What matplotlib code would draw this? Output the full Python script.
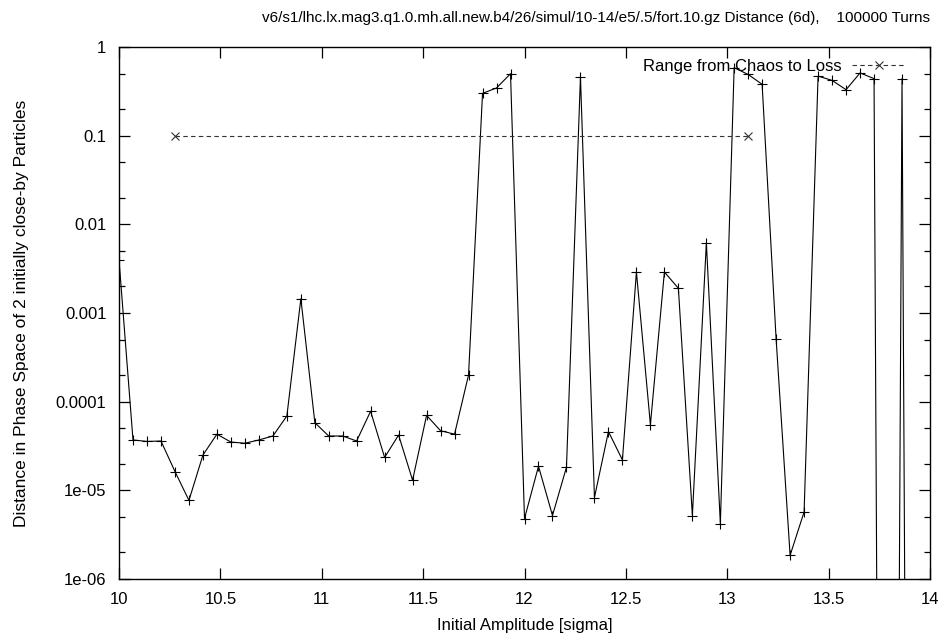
import matplotlib
matplotlib.use("Agg")
import matplotlib.pyplot as plt
from matplotlib.ticker import FixedLocator, NullLocator

plt.rcParams['font.family'] = ['Liberation Sans', 'DejaVu Sans']

amplitude = [10.000, 10.069, 10.138, 10.207, 10.276, 10.345, 10.414, 10.483, 10.552, 10.621,
             10.690, 10.759, 10.828, 10.897, 10.966, 11.034, 11.103, 11.172, 11.241, 11.310,
             11.379, 11.448, 11.517, 11.586, 11.655, 11.724, 11.793, 11.862, 11.931, 12.000,
             12.069, 12.138, 12.207, 12.276, 12.345, 12.414, 12.483, 12.552, 12.621, 12.690,
             12.759, 12.828, 12.897, 12.966, 13.034, 13.103, 13.172, 13.241, 13.310, 13.379,
             13.448, 13.517, 13.586, 13.655, 13.724, 13.793, 13.862, 13.931]
distance = [4.0e-3, 3.7e-5, 3.56e-5, 3.6e-5, 1.63e-5, 7.7e-6, 2.5e-5, 4.3e-5, 3.5e-5, 3.4e-5,
            3.7e-5, 4.1e-5, 6.9e-5, 1.45e-3, 5.8e-5, 4.1e-5, 4.1e-5, 3.6e-5, 7.8e-5, 2.35e-5,
            4.2e-5, 1.3e-5, 7.0e-5, 4.7e-5, 4.3e-5, 2.0e-4, 0.30, 0.345, 0.50, 4.8e-6,
            1.87e-5, 5.2e-6, 1.82e-5, 0.46, 8.3e-6, 4.6e-5, 2.2e-5, 2.9e-3, 5.5e-5, 2.9e-3,
            1.9e-3, 5.2e-6, 6.2e-3, 4.2e-6, 0.585, 0.49, 0.38, 5.1e-4, 1.85e-6, 5.7e-6,
            0.47, 0.42, 0.33, 0.51, 0.44, 1e-30, 0.44, 1e-30]

range_x = [10.276, 13.103]
range_y = [0.1, 0.1]

xticks = [10, 10.5, 11, 11.5, 12, 12.5, 13, 13.5, 14]
xtick_labels = ["10", "10.5", "11", "11.5", "12", "12.5", "13", "13.5", "14"]
yticks = [1e-6, 1e-5, 1e-4, 1e-3, 1e-2, 1e-1, 1]
ytick_labels = ["1e-06", "1e-05", "0.0001", "0.001", "0.01", "0.1", "1"]

title = "v6/s1/lhc.lx.mag3.q1.0.mh.all.new.b4/26/simul/10-14/e5/.5/fort.10.gz Distance (6d),    100000 Turns"

W, H = 942, 639
fig = plt.figure(figsize=(W / 100, H / 100), dpi=100)
L, R, T, B = 119, 930, 47, 579
ax = fig.add_axes([L / W, 1 - B / H, (R - L) / W, (B - T) / H])

ax.plot(amplitude, distance, color='black', lw=0.8, marker='+', ms=7.5, mew=0.8)
ax.plot(range_x, range_y, color='#333333', lw=0.8, ls=(0, (4, 3)), marker='x', ms=6, mew=0.8,
        label='Range from Chaos to Loss')

ax.set_yscale('log')
ax.set_xlim(10, 14)
ax.set_ylim(1e-6, 1)

ax.xaxis.set_major_locator(FixedLocator(xticks))
ax.set_xticklabels(xtick_labels)
ax.xaxis.set_minor_locator(NullLocator())
ax.yaxis.set_major_locator(FixedLocator(yticks))
ax.set_yticklabels(ytick_labels)
minor = []
for d in yticks[:-1]:
    minor += [2 * d, 5 * d]
ax.yaxis.set_minor_locator(FixedLocator(minor))

fs = 12
ax.tick_params(which='major', direction='in', top=True, right=True, length=8, width=0.9,
               labelsize=fs, pad=9)
ax.tick_params(which='minor', direction='in', top=True, right=True, length=4, width=0.9)
for s in ax.spines.values():
    s.set_linewidth(1.0)

ax.set_xlabel("Initial Amplitude [sigma]", fontsize=fs, labelpad=8)
ax.set_ylabel("Distance in Phase Space of 2 initially close-by Particles", fontsize=12.5,
              labelpad=19)
fig.text(930 / W, 1 - 18 / H, title, ha='right', va='center', fontsize=11)

leg = ax.legend(loc='upper right', bbox_to_anchor=(1 - 13 / (R - L), 1.0), frameon=False,
                fontsize=fs, markerfirst=False, handlelength=3.2, borderaxespad=0.3,
                handletextpad=0.6)

fig.savefig("out.png", dpi=100)
